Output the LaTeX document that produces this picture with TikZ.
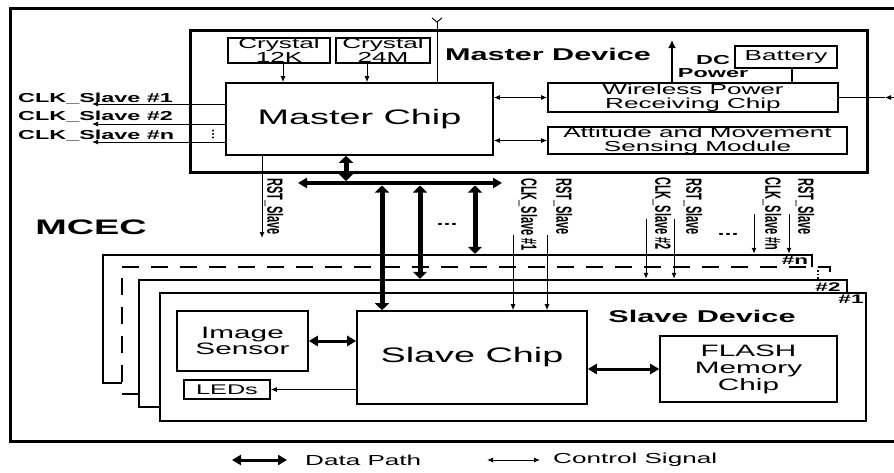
\documentclass[tikz,border=0pt]{standalone}
\usepackage{fontspec}
\usepackage{graphicx}
\setmainfont{Liberation Sans}[FakeStretch=1.8]
\newfontfamily\rotfont{Liberation Sans}
\usetikzlibrary{arrows.meta}
\tikzset{
  box/.style={draw, line width=1.6pt, fill=white, inner sep=0pt, align=center, font=\fontsize{14.5}{14}\selectfont},
  bigbox/.style={box, font=\fontsize{21}{24}\selectfont},
  devbox/.style={draw, line width=2.5pt, fill=white, inner sep=0pt},
  lab/.style={inner sep=0pt, font=\bfseries\fontsize{13}{13}\selectfont},
  numlab/.style={inner sep=0pt, font=\bfseries\fontsize{12.5}{12.5}\selectfont},
  title/.style={inner sep=0pt, font=\bfseries\fontsize{17}{17}\selectfont},
  rotlab/.style={inner sep=0pt, rotate=-90, anchor=west, font=\rotfont\bfseries\fontsize{11}{11}\selectfont},
  legtext/.style={inner sep=0pt, anchor=west, font=\fontsize{14.5}{14.5}\selectfont},
  ctl/.style={line width=1pt, -{Latex[length=6pt,width=5pt]}},
  ctlboth/.style={line width=1pt, {Latex[length=6pt,width=5pt]}-{Latex[length=6pt,width=5pt]}},
  dh/.style={line width=3pt, {Triangle[length=9pt,width=10pt]}-{Triangle[length=9pt,width=10pt]}},
  dv/.style={line width=5pt, {Triangle[length=7pt,width=14pt]}-{Triangle[length=7pt,width=14pt]}},
}
\begin{document}
\begin{tikzpicture}[x=1pt, y=-1pt]
\useasboundingbox (0,0) rectangle (894,472);

% MCEC frame
\draw[line width=3pt] (894,8) -- (10,8) -- (10,441) -- (894,441);
\node[inner sep=0pt, font=\bfseries\fontsize{21}{21}\selectfont] (mcec) at (91,227) {MCEC};

% Master device
\node[devbox, line width=3pt, minimum width=677pt, minimum height=142pt] (md) at (528.5,101) {};
\node[title] (mdl) at (548,54) {Master Device};

\node[box, minimum width=102pt, minimum height=25pt] (c12) at (279,50.5) {Crystal\\12K};
\node[box, minimum width=94pt, minimum height=25pt] (c24) at (383,50.5) {Crystal\\24M};
\node[bigbox, minimum width=267pt, minimum height=72pt] (mc) at (359.5,119) {Master Chip};
\node[box, minimum width=102pt, minimum height=22pt] (bat) at (786,57) {Battery};
\node[box, minimum width=290pt, minimum height=29pt] (wpr) at (693,97.5) {Wireless Power\\Receiving Chip};
\node[box, minimum width=299pt, minimum height=27pt] (att) at (697.5,140.5) {Attitude and Movement\\Sensing Module};

\draw[ctl] ([xshift=4pt]c12.south) -- ([xshift=4pt]c12.south |- mc.north);
\draw[ctl] ([xshift=-16pt]c24.south) -- ([xshift=-16pt]c24.south |- mc.north);

% antenna
\coordinate (ant) at (437,22);
\draw[line width=1pt] (mc.north -| ant) -- (ant);
\draw[line width=1pt] (432,18) -- (ant) -- (442,18);

% DC power and battery
\coordinate (dc) at (672,40);
\draw[line width=2pt, -{Latex[length=8pt,width=8pt]}] (wpr.north -| dc) -- (dc);
\node[lab] (dcl) at (713,60) {DC};
\node[lab] (pwl) at (713,73) {Power};
\draw[line width=1.6pt] ([xshift=6pt]bat.south) -- ([xshift=6pt]bat.south |- wpr.north);

\draw[ctlboth] (mc.east |- wpr.west) -- (wpr.west);
\draw[ctlboth] (mc.east |- att.west) -- (att.west);

% external power input
\coordinate (pwrin) at (885,97.5);
\coordinate (pwrext) at (894,97.5);
\draw[line width=1pt] (wpr.east) -- (pwrin);
\draw[ctl] (pwrext) -- (pwrin);

% CLK outputs to the left
\coordinate (k1) at (92,104);
\coordinate (k2) at (92,124);
\coordinate (kn) at (92,142);
\draw[ctl] (mc.west |- k1) -- (k1);
\draw[ctl] (mc.west |- k2) -- (k2);
\draw[ctl] (mc.west |- kn) -- (kn);
\node[lab, anchor=base west] (l1) at (18,102) {CLK\_Slave \#1};
\node[lab, anchor=base west] (l2) at (18,120.5) {CLK\_Slave \#2};
\node[lab, anchor=base west] (ln) at (18,139) {CLK\_Slave \#n};
\fill (213,130.5) circle (1.1pt) (213,134) circle (1.1pt) (213,137.5) circle (1.1pt);

% RST from master
\coordinate (rstm) at (262,238);
\draw[ctl] (mc.south -| rstm) -- (rstm);
\node[rotlab] (rstml) at (274,178) {\scalebox{1}[2]{RST\_Slave}};

% slave stack
\node[devbox, minimum width=709pt, minimum height=128pt] (sn) at (457.5,319) {};
\node[numlab] (snl) at (795,260) {\#n};
\node[fill=white, draw=none, inner sep=0pt, minimum width=708pt, minimum height=127pt] (sd) at (476,330.5) {};
\draw[line width=2.5pt, dash pattern=on 17pt off 12pt] ([yshift=-5pt]sd.north east) -- (sd.north east) -- (sd.north west) -- (sd.south west) -- ([xshift=17pt]sd.south west);
\draw[line width=1.5pt, dash pattern=on 1.5pt off 2pt] (818,270) -- (818,280);
\node[devbox, minimum width=708pt, minimum height=127pt] (s2) at (493,343.5) {};
\node[numlab] (s2l) at (828,287) {\#2};
\node[devbox, minimum width=706pt, minimum height=128pt] (s1) at (513,357) {};
\node[numlab] (s1l) at (851,299) {\#1};

\node[box, font=\fontsize{16.5}{16}\selectfont, minimum width=131pt, minimum height=60pt] (is) at (242.5,341) {Image\\Sensor};
\node[box, font=\fontsize{14}{14}\selectfont, minimum width=86pt, minimum height=19pt] (led) at (227,389.5) {LEDs};
\node[bigbox, minimum width=230pt, minimum height=93pt] (sc) at (472,357.5) {Slave Chip};
\node[box, font=\fontsize{16.5}{17}\selectfont, minimum width=177pt, minimum height=66pt] (fl) at (748.5,369) {FLASH\\Memory\\Chip};
\node[title] (sdl) at (702,316) {Slave Device};

\draw[dh] (is.east) -- (is.east -| sc.west);
\draw[ctl] (sc.west |- led.east) -- (led.east);
\draw[dh] (sc.east |- fl.west) -- (fl.west);

% data bus
\coordinate (busL) at (298,183);
\coordinate (busR) at (502,183);
\coordinate (tapM) at (346,181);
\coordinate (tapA) at (382,185.5);
\coordinate (tapB) at (420,185.5);
\coordinate (tapC) at (475,185.5);
\draw[dh, line width=3.5pt] (busL) -- (busR);
\draw[dv] (mc.south -| tapM) -- (tapM);
\draw[dv] (tapA) -- (tapA |- sc.north);
\draw[dv] (tapB) -- (tapB |- s2.north);
\draw[dv] (tapC) -- (tapC |- sn.north);
\node[inner sep=0pt, anchor=base, font=\bfseries\fontsize{14}{14}\selectfont] (dotsA) at (447,225) {...};

% control signals to slaves
\coordinate (c1) at (513,235);
\coordinate (r1) at (547,235);
\coordinate (c2) at (646,219);
\coordinate (r2) at (674,219);
\coordinate (cn) at (754,214);
\coordinate (rn) at (789,214);
\draw[ctl] (c1) -- (c1 |- sc.north);
\draw[ctl] (r1) -- (r1 |- sc.north);
\draw[ctl] (c2) -- (c2 |- s2.north);
\draw[ctl] (r2) -- (r2 |- s2.north);
\draw[ctl] (cn) -- (cn |- sn.north);
\draw[ctl] (rn) -- (rn |- sn.north);
\node[rotlab] (c1l) at (528,178) {\scalebox{1}[2]{CLK\_Slave \#1}};
\node[rotlab] (r1l) at (563,178) {\scalebox{1}[2]{RST\_Slave}};
\node[rotlab] (c2l) at (662,177) {\scalebox{1}[2]{CLK\_Slave \#2}};
\node[rotlab] (r2l) at (693,178) {\scalebox{1}[2]{RST\_Slave}};
\node[rotlab] (cnl) at (772,177) {\scalebox{1}[2]{CLK\_Slave \#n}};
\node[rotlab] (rnl) at (805,178) {\scalebox{1}[2]{RST\_Slave}};
\node[inner sep=0pt, anchor=base, font=\bfseries\fontsize{14}{14}\selectfont] (dotsB) at (728,235) {...};

% legend
\coordinate (lga) at (232,460);
\coordinate (lgb) at (287,460);
\coordinate (lgc) at (487,460);
\coordinate (lgd) at (540,460);
\draw[dh] (lga) -- (lgb);
\draw[ctlboth] (lgc) -- (lgd);
\node[legtext] (lgdp) at (305,460) {Data Path};
\node[legtext] (lgcs) at (553,460) {Control Signal};
\end{tikzpicture}
\end{document}
